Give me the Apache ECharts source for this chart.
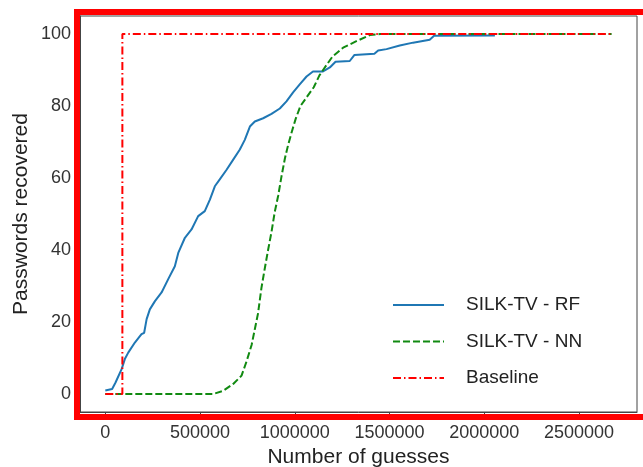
<!DOCTYPE html>
<html>
<head>
<meta charset="utf-8">
<script src="https://cdn.jsdelivr.net/npm/echarts@6/dist/echarts.min.js"></script>
<style>
    html, body { margin: 0; padding: 0; background: #fff; }
    #chart { width: 643px; height: 467px; }
</style>
</head>
<body>
<div id="chart"></div>
<script>
// 数据: [guesses, recovered %]
var xTicks = [0, 500000, 1000000, 1500000, 2000000, 2500000];
var yTicks = [0, 20, 40, 60, 80, 100];
var seriesNames = ['SILK-TV - RF', 'SILK-TV - NN', 'Baseline'];

var rfData = [
    [0, 1], [36000, 1.4], [54000, 3.2], [86000, 6.9], [103000, 9.7], [121000, 11.5],
    [156000, 14.3], [191000, 16.6], [205000, 17], [218000, 20.8], [235000, 23.5],
    [262000, 25.8], [297000, 28.2], [332000, 31.9], [367000, 35.5], [385000, 39.2],
    [420000, 43.4], [455000, 45.7], [490000, 49.4], [525000, 50.8], [552000, 54],
    [578000, 57.7], [604000, 59.6], [640000, 62.3], [675000, 65.1], [710000, 67.9],
    [736000, 70.6], [763000, 74.3], [789000, 75.7], [833000, 76.6], [877000, 77.8],
    [921000, 79.3], [956000, 81.3], [991000, 83.8], [1026000, 86], [1062000, 88.2],
    [1096000, 89.6], [1149000, 89.6], [1185000, 90.7], [1215000, 92.3], [1290000, 92.5],
    [1315000, 94.2], [1420000, 94.5], [1440000, 95.4], [1484000, 95.8], [1554000, 96.8],
    [1624000, 97.6], [1712000, 98.4], [1735000, 99.5], [2056000, 99.6]
];
var nnData = [
    [0, 0], [569000, 0], [622000, 0.9], [675000, 2.8], [719000, 5.1], [745000, 9],
    [772000, 13.6], [789000, 18], [806000, 22.4], [824000, 29.5], [842000, 35],
    [859000, 40], [877000, 45], [894000, 50.5], [912000, 55], [930000, 60.5],
    [948000, 65.5], [964000, 69], [985000, 73], [1005000, 76.5], [1030000, 80],
    [1062000, 82.4], [1100000, 85.2], [1130000, 88.5], [1165000, 91.2], [1200000, 93.8],
    [1255000, 96.2], [1325000, 98], [1396000, 99.7], [1450000, 100], [2672000, 100]
];
var baselineData = [
    [0, 0], [90000, 0], [90000, 100], [2672000, 100]
];

var fontName = 'Liberation Sans';
var axisColor = '#444';

var chart = echarts.init(document.getElementById('chart'));

function lineSeries(name, data, color, type, width) {
    return {
        name: name,
        type: 'line',
        data: data,
        showSymbol: false,
        symbol: 'none',
        animation: false,
        lineStyle: { color: color, width: width, type: type },
        itemStyle: { color: color }
    };
}

var option = {
    animation: false,
    backgroundColor: '#fff',
    grid: {
        left: 80, right: 6, top: 16, bottom: 55,
        outerBoundsMode: 'none',
        containLabel: false,
        show: true, borderColor: axisColor, borderWidth: 1
    },
    xAxis: {
        type: 'value',
        min: -133600,
        max: 2806000,
        name: 'Number of guesses',
        nameLocation: 'middle',
        nameGap: 31,
        nameTextStyle: { fontFamily: fontName, fontSize: 21, color: '#222' },
        axisLine: { show: true, onZero: false, lineStyle: { color: axisColor } },
        axisTick: { show: true, length: 5, customValues: xTicks, lineStyle: { color: axisColor } },
        axisLabel: {
            customValues: xTicks,
            fontFamily: fontName, fontSize: 18, color: '#333', margin: 12,
            formatter: function (v) { return String(v); }
        },
        splitLine: { show: false }
    },
    yAxis: {
        type: 'value',
        min: -5,
        max: 105,
        name: 'Passwords recovered',
        nameLocation: 'middle',
        nameGap: 48,
        nameMoveOverlap: false,
        nameTextStyle: { fontFamily: fontName, fontSize: 21, color: '#222' },
        axisLine: { show: true, onZero: false, lineStyle: { color: axisColor } },
        axisTick: { show: true, length: 5, customValues: yTicks, lineStyle: { color: axisColor } },
        axisLabel: {
            customValues: yTicks,
            fontFamily: fontName, fontSize: 18, color: '#333', margin: 9
        },
        splitLine: { show: false }
    },
    legend: {
        orient: 'vertical',
        left: 392,
        top: 295,
        padding: 0,
        itemWidth: 51,
        itemHeight: 14,
        itemGap: 16.5,
        itemStyle: { opacity: 0 },
        textStyle: { fontFamily: fontName, fontSize: 19, color: '#222', lineHeight: 20, padding: [0, 0, 0, 17] },
        data: seriesNames
    },
    series: [
        lineSeries(seriesNames[0], rfData, '#1f77b4', 'solid', 2),
        lineSeries(seriesNames[1], nnData, '#118a11', [7, 3], 2),
        lineSeries(seriesNames[2], baselineData, '#ff0000', [8, 3, 1.5, 3], 2)
    ],
    graphic: [{
        type: 'rect',
        z: 100,
        silent: true,
        shape: { x: 77, y: 12, width: 570, height: 405 },
        style: { fill: 'none', stroke: '#ff0000', lineWidth: 6 }
    }]
};

chart.setOption(option);
</script>
</body>
</html>
